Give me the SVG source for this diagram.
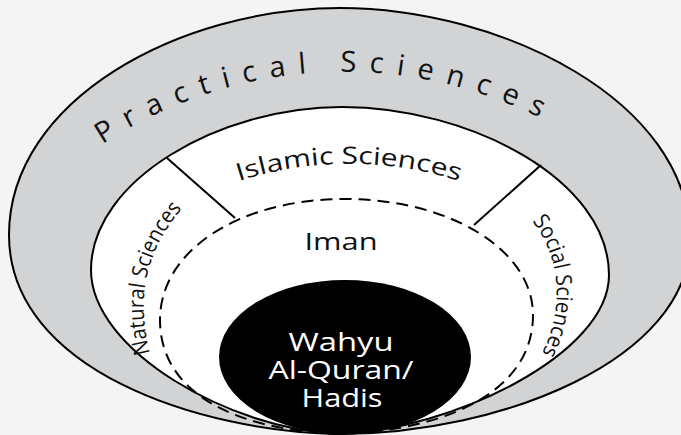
<svg xmlns="http://www.w3.org/2000/svg" width="681" height="435" viewBox="0 0 681 435">
<style>
.lbl{font-family:"Open Sans","Noto Sans","Liberation Sans",sans-serif;fill:#111}
.wl{font-family:"Open Sans","Noto Sans","Liberation Sans",sans-serif;fill:#fff;font-size:26px;text-anchor:middle}
.edge{stroke:#000;stroke-width:2;fill:none}
.dash{stroke:#000;stroke-width:2;fill:none;stroke-dasharray:12 7}
</style>
<defs>
<path id="pPractical" d="M 100,146 A 438 438 0 0 1 588,146"/>
<path id="pIslamic" d="M 230,184 A 360 360 0 0 1 468,184"/>
<path id="pNatural" d="M 153,365 C 140,320 132,260 190,200"/>
<path id="pSocial" d="M 527,215 C 560,250 568,310 538,360"/>
</defs>
<rect width="681" height="435" fill="#f4f4f4"/>
<g id="practical">
<path d="M 340,434 C 200,432 9,370 9,235 C 9,100 180,8 340,8 C 500,8 690,100 690,240 C 690,360 500,434 340,434 Z" fill="#d1d3d4" stroke="#000" stroke-width="2"/>
<text class="lbl" style="font-size:29px;letter-spacing:13px"><textPath href="#pPractical" startOffset="3">Practical Sciences</textPath></text>
</g>
<g id="islamic">
<path d="M 342,107 C 220,107 91,180 91,270 C 91,350 230,430 340,434 C 450,430 609,355 609,275 C 609,180 470,107 342,107 Z" fill="#fff" stroke="#000" stroke-width="2"/>
<text class="lbl" style="font-size:24px" text-anchor="middle"><textPath href="#pIslamic" startOffset="50%" textLength="224" lengthAdjust="spacingAndGlyphs">Islamic Sciences</textPath></text>
</g>
<g id="natural">
<text class="lbl" style="font-size:22px"><textPath href="#pNatural" startOffset="12" textLength="155" lengthAdjust="spacingAndGlyphs">Natural Sciences</textPath></text>
</g>
<g id="social">
<text class="lbl" style="font-size:22px"><textPath href="#pSocial" startOffset="8" textLength="140" lengthAdjust="spacingAndGlyphs">Social Sciences</textPath></text>
</g>
<g id="iman">
<path class="dash" d="M 340,434 C 230,430 160,390 160,320 C 160,250 240,199 345,199 C 450,199 533,250 533,315 C 533,390 450,430 340,434"/>
<text class="lbl" font-size="23" x="341" y="250" text-anchor="middle" textLength="73" lengthAdjust="spacingAndGlyphs">Iman</text>
</g>
<g id="connectors">
<line class="edge" x1="167" y1="158" x2="235" y2="218"/>
<line class="edge" x1="541" y1="165" x2="474" y2="225"/>
</g>
<g id="wahyu">
<ellipse cx="345" cy="357" rx="126" ry="77" fill="#000"/>
<text class="wl" x="341" y="351" textLength="105" lengthAdjust="spacingAndGlyphs">Wahyu</text>
<text class="wl" x="341" y="379" textLength="145" lengthAdjust="spacingAndGlyphs">Al-Quran/</text>
<text class="wl" x="342" y="407" textLength="81" lengthAdjust="spacingAndGlyphs">Hadis</text>
</g>
</svg>
